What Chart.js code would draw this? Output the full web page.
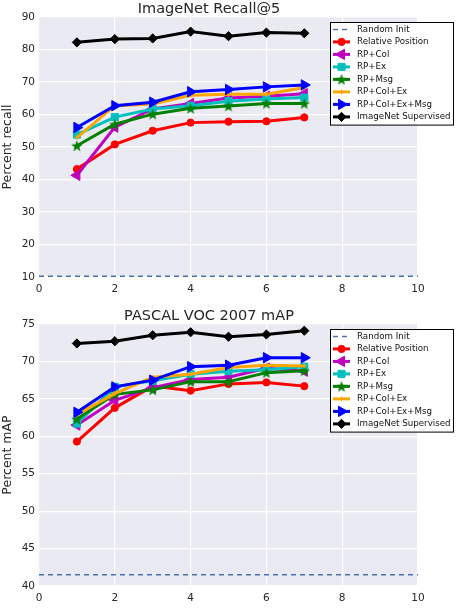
<!DOCTYPE html>
<html>
<head>
<meta charset="utf-8">
<script src="https://cdn.jsdelivr.net/npm/chart.js@4.4.1/dist/chart.umd.min.js"></script>
<style>
  html, body { margin: 0; padding: 0; background: #fff; }
  .panel { position: absolute; left: 0; width: 471px; }
</style>
</head>
<body>
<div class="panel" style="top:0;height:300px"><canvas id="recall" width="471" height="300" style="width:471px;height:300px"></canvas></div>
<div class="panel" style="top:300px;height:309px"><canvas id="voc" width="471" height="309" style="width:471px;height:309px"></canvas></div>
<script>
// x values (training checkpoints)
const epochs = [1, 2, 3, 4, 5, 6, 7];
const seriesLabels = ['Relative Position', 'RP+Col', 'RP+Ex', 'RP+Msg', 'RP+Col+Ex', 'RP+Col+Ex+Msg', 'ImageNet Supervised'];

// ImageNet Recall@5
const recallRelPos   = [43.2, 50.8, 55.0, 57.5, 57.8, 57.9, 59.1];
const recallRPCol    = [41.3, 56.1, 61.7, 63.4, 65.1, 65.6, 66.4];
const recallRPEx     = [53.8, 59.2, 61.7, 62.7, 64.1, 64.8, 65.2];
const recallRPMsg    = [50.4, 57.0, 60.1, 61.9, 62.6, 63.4, 63.4];
const recallRPColEx  = [52.9, 62.7, 63.2, 65.9, 66.2, 66.2, 68.3];
const recallRPAll    = [56.0, 62.7, 63.8, 67.0, 67.7, 68.5, 69.1];
const recallSup      = [82.2, 83.2, 83.4, 85.5, 84.1, 85.2, 85.0];
const recallRandom   = 10.2;
const recallTicks    = [10, 20, 30, 40, 50, 60, 70, 80, 90];

// PASCAL VOC 2007 mAP
const mapRelPos   = [59.3, 63.8, 66.7, 66.1, 67.0, 67.2, 66.7];
const mapRPCol    = [61.5, 64.8, 66.5, 67.6, 67.9, 69.1, 68.7];
const mapRPEx     = [61.7, 66.6, 67.4, 68.3, 68.7, 68.9, 69.3];
const mapRPMsg    = [62.3, 65.6, 66.2, 67.3, 67.3, 68.5, 68.75];
const mapRPColEx  = [62.9, 65.7, 67.9, 68.3, 69.2, 69.5, 69.4];
const mapRPAll    = [63.2, 66.6, 67.5, 69.3, 69.5, 70.5, 70.5];
const mapSup      = [72.4, 72.7, 73.5, 73.9, 73.3, 73.6, 74.1];
const mapRandom   = 41.5;
const mapTicks    = [40, 45, 50, 55, 60, 65, 70, 75];

const xTicks = [0, 2, 4, 6, 8, 10];

Chart.defaults.font.family = '"DejaVu Sans", sans-serif';
Chart.defaults.color = '#262626';

function makeStar(color, r) {
    const c = document.createElement('canvas');
    const s = Math.ceil(r * 2) + 2;
    c.width = s; c.height = s;
    const g = c.getContext('2d');
    g.fillStyle = color;
    g.beginPath();
    for (let i = 0; i < 10; i++) {
        const rad = i % 2 === 0 ? r : r * 0.42;
        const a = -Math.PI / 2 + i * Math.PI / 5;
        const px = s / 2 + Math.cos(a) * rad;
        const py = s / 2 + 0.6 + Math.sin(a) * rad;
        if (i === 0) g.moveTo(px, py); else g.lineTo(px, py);
    }
    g.closePath();
    g.fill();
    return c;
}

const seriesStyles = [
    { color: '#ff0000', pointStyle: 'circle', radius: 3.6, rotation: 0, pbw: 1 },
    { color: '#bf00bf', pointStyle: 'triangle', radius: 6, rotation: -90, pbw: 1 },
    { color: '#00bfbf', pointStyle: 'rect', radius: 5, rotation: 0, pbw: 1 },
    { color: '#008000', pointStyle: makeStar('#008000', 6), radius: 6, rotation: 0, pbw: 0 },
    { color: '#ffa500', pointStyle: 'cross', radius: 2.5, rotation: 0, pbw: 1 },
    { color: '#0000ff', pointStyle: 'triangle', radius: 6, rotation: 90, pbw: 1 },
    { color: '#000000', pointStyle: 'rectRot', radius: 4.6, rotation: 0, pbw: 1 }
];

function buildDatasets(seriesValues, randomValue) {
    const datasets = [{
        label: 'Random Init',
        data: [{ x: 0, y: randomValue }, { x: 10, y: randomValue }],
        borderColor: '#4c72b0',
        borderWidth: 1.5,
        borderDash: [5, 4],
        pointRadius: 0,
        order: 10
    }];
    seriesValues.forEach((values, i) => {
        const st = seriesStyles[i];
        datasets.push({
            label: seriesLabels[i],
            data: epochs.map((e, k) => ({ x: e, y: values[k] })),
            borderColor: st.color,
            backgroundColor: st.color,
            pointBackgroundColor: st.color,
            pointBorderColor: st.color,
            pointBorderWidth: st.pbw,
            pointStyle: st.pointStyle,
            pointRadius: st.radius,
            pointRotation: st.rotation,
            borderWidth: 3,
            tension: 0,
            order: 9 - i
        });
    });
    return datasets;
}

const plotBackground = {
    id: 'plotBackground',
    beforeDraw(chart) {
        const a = chart.chartArea;
        const ctx = chart.ctx;
        ctx.save();
        ctx.fillStyle = '#eaeaf2';
        ctx.fillRect(a.left, a.top, a.right - a.left, a.bottom - a.top);
        ctx.restore();
    }
};

// boxed legend in the upper right, partly outside the plot like matplotlib's
const boxLegend = {
    id: 'boxLegend',
    afterDraw(chart) {
        const ctx = chart.ctx;
        const x0 = 330, y0 = chart.chartArea.top + 5, w = 123, rowH = 12.5;
        const h = rowH * 8 + 2.6;
        ctx.save();
        ctx.fillStyle = '#ffffff';
        ctx.fillRect(x0, y0, w, h);
        ctx.strokeStyle = '#000000';
        ctx.lineWidth = 1;
        ctx.strokeRect(x0 + 0.5, y0 + 0.5, w, h);
        chart.data.datasets.forEach((ds, i) => {
            const y = y0 + 7.4 + i * rowH;
            ctx.strokeStyle = ds.borderColor;
            ctx.lineWidth = ds.borderWidth;
            ctx.setLineDash(ds.borderDash || []);
            ctx.beginPath();
            ctx.moveTo(x0 + 3, y);
            ctx.lineTo(x0 + 20, y);
            ctx.stroke();
            ctx.setLineDash([]);
            if (ds.pointRadius > 0) {
                ctx.fillStyle = ds.pointBackgroundColor;
                ctx.strokeStyle = ds.pointBorderColor;
                ctx.lineWidth = ds.pointBorderWidth;
                Chart.helpers.drawPoint(ctx, {
                    pointStyle: ds.pointStyle,
                    radius: ds.pointRadius,
                    rotation: ds.pointRotation || 0,
                    borderWidth: ds.pointBorderWidth
                }, x0 + 11.5, y);
            }
            ctx.fillStyle = '#111111';
            ctx.font = '8.7px "DejaVu Sans"';
            ctx.textBaseline = 'middle';
            ctx.textAlign = 'left';
            ctx.fillText(ds.label, x0 + 27, y);
        });
        ctx.restore();
    }
};

function makeChart(canvasId, title, yTitle, seriesValues, randomValue, yTicks, topPad) {
    const yMin = yTicks[0];
    const yMax = yTicks[yTicks.length - 1];
    return new Chart(document.getElementById(canvasId), {
        type: 'line',
        data: { datasets: buildDatasets(seriesValues, randomValue) },
        plugins: [plotBackground, boxLegend],
        options: {
            responsive: false,
            animation: false,
            devicePixelRatio: 1,
            events: [],
            layout: { padding: { top: topPad, right: 53, bottom: 0, left: 0 } },
            plugins: {
                legend: { display: false },
                tooltip: { enabled: false },
                title: {
                    display: true,
                    text: title,
                    color: '#262626',
                    font: { size: 14.5, weight: 'normal', lineHeight: 1.0 },
                    padding: { top: 0, bottom: 1 }
                }
            },
            scales: {
                x: {
                    type: 'linear',
                    min: 0,
                    max: 10,
                    afterBuildTicks: s => { s.ticks = xTicks.map(v => ({ value: v })); },
                    afterFit: s => { s.height = 23; },
                    grid: { color: '#ffffff', lineWidth: 1.2, drawTicks: false },
                    border: { display: false },
                    ticks: { padding: 6, font: { size: 10.5 } }
                },
                y: {
                    min: yMin,
                    max: yMax,
                    afterBuildTicks: s => { s.ticks = yTicks.map(v => ({ value: v })); },
                    afterFit: s => { s.width = 39; },
                    grid: { color: '#ffffff', lineWidth: 1.2, drawTicks: false },
                    border: { display: false },
                    ticks: { padding: 4, font: { size: 10.5 } },
                    title: {
                        display: true,
                        text: yTitle,
                        color: '#262626',
                        font: { size: 12.5 },
                        padding: { top: 0, bottom: 0 }
                    }
                }
            }
        }
    });
}

makeChart('recall', 'ImageNet Recall@5', 'Percent recall',
    [recallRelPos, recallRPCol, recallRPEx, recallRPMsg, recallRPColEx, recallRPAll, recallSup],
    recallRandom, recallTicks, 1.5);

makeChart('voc', 'PASCAL VOC 2007 mAP', 'Percent mAP',
    [mapRelPos, mapRPCol, mapRPEx, mapRPMsg, mapRPColEx, mapRPAll, mapSup],
    mapRandom, mapTicks, 8.5);
</script>
</body>
</html>
